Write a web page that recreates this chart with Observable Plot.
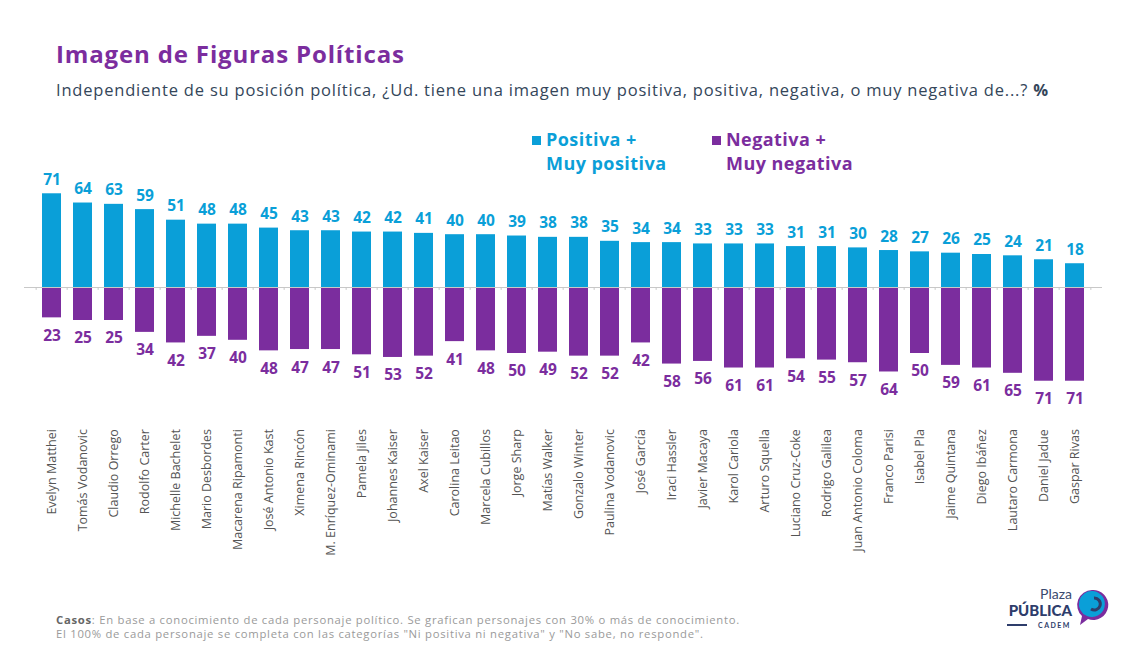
<!DOCTYPE html>
<html>
<head>
<meta charset="utf-8">
<script src="https://cdn.jsdelivr.net/npm/d3@7"></script>
<script src="https://cdn.jsdelivr.net/npm/@observablehq/plot@0.6"></script>
<style>
  html, body { margin: 0; padding: 0; background: #fff; }
  #page { position: relative; width: 1126px; height: 651px; overflow: hidden; font-family: "Open Sans", "Noto Sans", sans-serif; }
  .abs { position: absolute; white-space: nowrap; }
  #title { left: 56px; top: 37px; font-size: 24px; font-weight: 700; color: #7b2d9e; letter-spacing: 0.85px; }
  #subtitle { left: 56px; top: 78px; font-size: 16.5px; color: #34465a; letter-spacing: 0.8px; }
  .leg { font-size: 18px; font-weight: 700; line-height: 24px; letter-spacing: 0.45px; }
  .sq { display: inline-block; width: 9px; height: 9px; margin-right: 5px; vertical-align: 1px; }
  #foot { left: 56px; top: 613px; font-size: 11.3px; color: #9a9a9a; line-height: 14px; letter-spacing: 0.72px; }
  #chart { left: 0; top: 160px; }
</style>
</head>
<body>
<div id="page">
  <div id="title" class="abs">Imagen de Figuras Políticas</div>
  <div id="subtitle" class="abs">Independiente de su posición política, ¿Ud. tiene una imagen muy positiva, positiva, negativa, o muy negativa de...? <b>%</b></div>
  <div id="legPos" class="abs leg" style="left:532px; top:127px; color:#0a9fd8;"><span class="sq" style="background:#0a9fd8"></span>Positiva +<br><span style="padding-left:14px">Muy positiva</span></div>
  <div id="legNeg" class="abs leg" style="left:712px; top:127px; color:#7b2d9e;"><span class="sq" style="background:#7b2d9e"></span>Negativa +<br><span style="padding-left:14px">Muy negativa</span></div>
  <div id="chart" class="abs"></div>
  <div id="foot" class="abs"><b style="color:#666">Casos</b>: En base a conocimiento de cada personaje político. Se grafican personajes con 30% o más de conocimiento.<br>El 100% de cada personaje se completa con las categorías "Ni positiva ni negativa" y "No sabe, no responde".</div>
  <svg class="abs" style="left:995px; top:585px;" width="120" height="50">
    <text x="77" y="14" text-anchor="end" font-family="Lato, sans-serif" font-size="14" fill="#3a4a6e">Plaza</text>
    <text x="77" y="31" text-anchor="end" font-family="Lato, sans-serif" font-size="15" font-weight="900" fill="#2e3d6b">PÚBLICA</text>
    <line x1="12" y1="40" x2="32" y2="40" stroke="#2e3d6b" stroke-width="2"/>
    <text x="76" y="43" text-anchor="end" font-family="Lato, sans-serif" font-size="7" font-weight="700" letter-spacing="1.5" fill="#2e3d6b">CADEM</text>
    <path d="M97,5 a15,15 0 1,1 -4,29 l-8,6 l2,-9 a15,15 0 0,1 10,-26z" fill="#7b2d9e"/>
    <path d="M98,6 a13,13 0 1,1 -6,25 a13,13 0 0,1 6,-25z" fill="#0a9fd8"/>
    <path d="M99,13 a6,6 0 1,1 -3,11" fill="none" stroke="#2e3d6b" stroke-width="3"/>
  </svg>
</div>
<script>
const names = ["Evelyn Matthei","Tomás Vodanovic","Claudio Orrego","Rodolfo Carter","Michelle Bachelet","Mario Desbordes","Macarena Ripamonti","José Antonio Kast","Ximena Rincón","M. Enríquez-Ominami","Pamela Jiles","Johannes Kaiser","Axel Kaiser","Carolina Leitao","Marcela Cubillos","Jorge Sharp","Matías Walker","Gonzalo Winter","Paulina Vodanovic","José García","Iraci Hassler","Javier Macaya","Karol Cariola","Arturo Squella","Luciano Cruz-Coke","Rodrigo Galilea","Juan Antonio Coloma","Franco Parisi","Isabel Pla","Jaime Quintana","Diego Ibáñez","Lautaro Carmona","Daniel Jadue","Gaspar Rivas"];
const positiva = [71,64,63,59,51,48,48,45,43,43,42,42,41,40,40,39,38,38,35,34,34,33,33,33,31,31,30,28,27,26,25,24,21,18];
const negativa = [23,25,25,34,42,37,40,48,47,47,51,53,52,41,48,50,49,52,52,42,58,56,61,61,54,55,57,64,50,59,61,65,71,71];

const BLUE = "#0a9fd8", PURPLE = "#7b2d9e";
const data = names.map((n, i) => ({name: n, pos: positiva[i], neg: negativa[i]}));
const font = "'Open Sans', 'Noto Sans', sans-serif";
const step = (1126 - 48) / names.length;

const chart = Plot.plot({
  width: 1126,
  height: 440,
  marginLeft: 24,
  marginRight: 24,
  marginTop: 21.4,
  marginBottom: 207.4,
  x: {domain: names, paddingInner: 0.4, paddingOuter: 0.2, axis: null},
  y: {domain: [-80, 80], axis: null},
  style: {fontFamily: font, overflow: "visible", background: "transparent"},
  marks: [
    Plot.barY(data, {x: "name", y1: 0, y2: "pos", fill: BLUE}),
    Plot.barY(data, {x: "name", y1: 0, y2: d => -d.neg, fill: PURPLE}),
    Plot.ruleY([0], {stroke: "#c8c8c8", strokeWidth: 1}),
    Plot.ruleX(data, {x: "name", dx: -step / 2, y1: 0, y2: -2.2, stroke: "#c8c8c8"}),
    Plot.ruleX(data.slice(-1), {x: "name", dx: step / 2, y1: 0, y2: -2.2, stroke: "#c8c8c8"}),
    Plot.text(data, {x: "name", y: "pos", text: d => String(d.pos), dy: -14, fill: BLUE, fontSize: 15.5, fontWeight: 700}),
    Plot.text(data, {x: "name", y: d => -d.neg, text: d => String(d.neg), dy: 18, fill: PURPLE, fontSize: 15.5, fontWeight: 700}),
    Plot.axisX({tickRotate: -90, tickSize: 0, tickPadding: 36, fontSize: 12.5, fill: "#555", label: null})
  ]
});
document.getElementById("chart").appendChild(chart);
</script>
</body>
</html>
